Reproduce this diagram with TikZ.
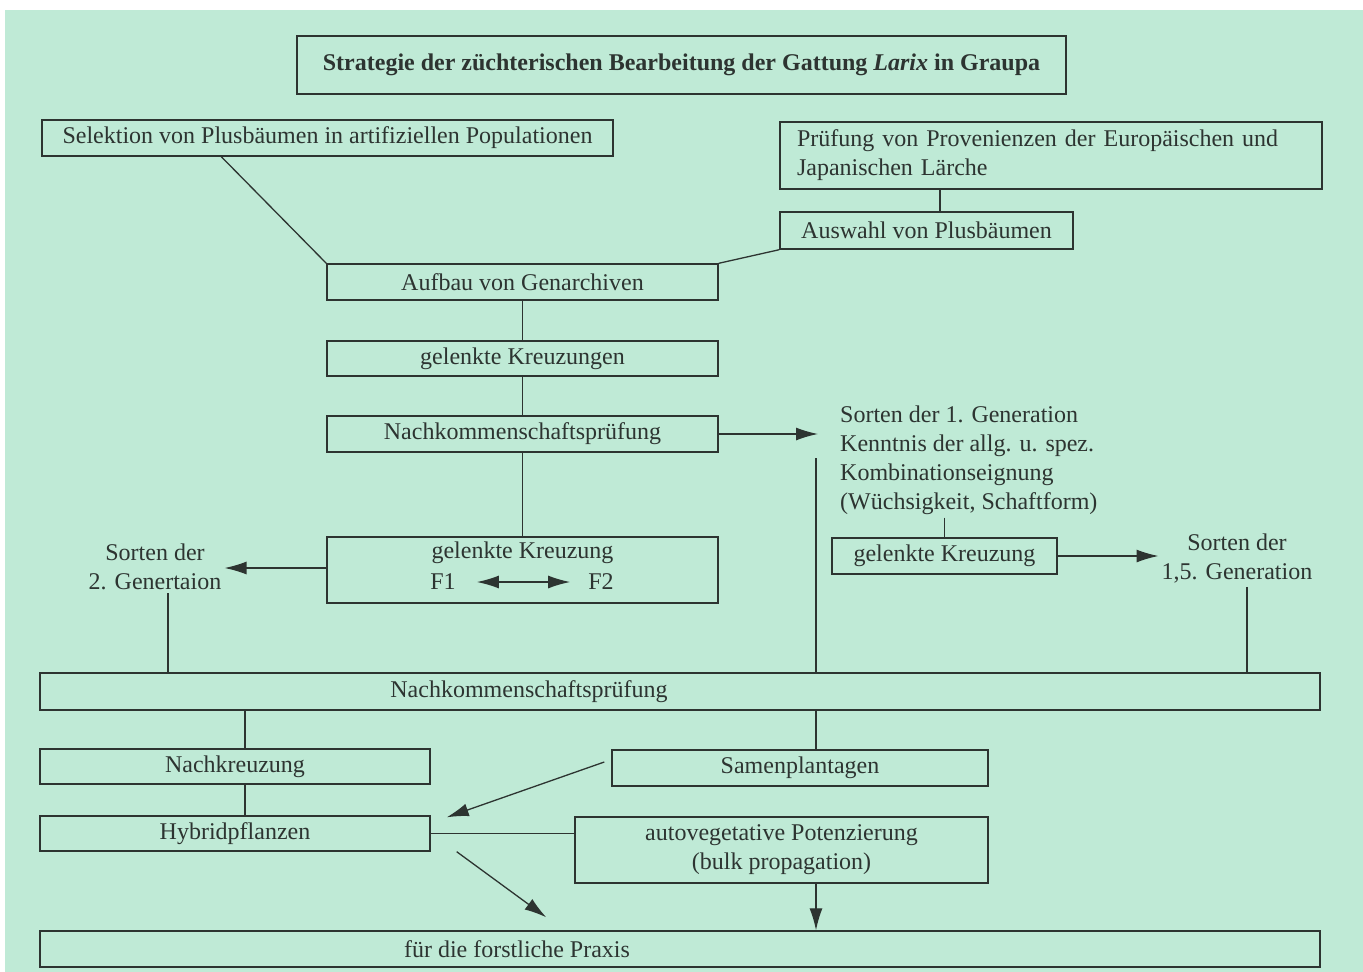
\documentclass[tikz,border=0pt]{standalone}
\usepackage{fontspec}
\setmainfont{Liberation Serif}
\usetikzlibrary{positioning, arrows.meta, calc}
\definecolor{mintbg}{RGB}{191,234,214}
\definecolor{inkgray}{RGB}{45,52,49}

\begin{document}
\begin{tikzpicture}[x=1pt, y=-1pt,
  box/.style={rectangle, draw=inkgray, line width=1.4pt, inner sep=0pt,
    font=\fontsize{24}{29}\selectfont, text=inkgray, align=center,
    minimum width=391pt, minimum height=36pt},
  plain/.style={inner sep=3pt, font=\fontsize{24}{29}\selectfont,
    text=inkgray, align=center},
  link/.style={draw=inkgray, line width=1.3pt},
  arrow/.style={link, -{Latex[length=22pt,width=13pt]}},
  twoway/.style={link, {Latex[length=22pt,width=13pt]}-{Latex[length=22pt,width=13pt]}}
]
  % background
  \useasboundingbox (0,0) rectangle (1363,972);
  \fill[mintbg] (5,10) rectangle (1363,972);

  \node[box, line width=2pt, minimum width=769pt, minimum height=58pt] (title) at (681.5,65)
    {\textbf{Strategie der züchterischen Bearbeitung der Gattung \textit{Larix} in Graupa}};

  % top row
  \node[box, minimum width=571pt] (selek) at (327.5,138)
    {Selektion von Plusbäumen in artifiziellen Populationen};
  \node[box, minimum width=542pt, minimum height=67pt, text width=508pt, align=left] (pruef) at (1051,155.5)
    {Prüfung von Provenienzen der Europäischen und\\Japanischen Lärche};
  \node[box, minimum width=293pt, minimum height=37pt] (auswahl) at (926.5,230.5)
    {Auswahl von Plusbäumen};

  % central column
  \node[box] (aufbau) at (522.5,282) {Aufbau von Genarchiven};
  \node[box, below=39.6pt of aufbau, minimum height=35pt] (kreuzungen) {gelenkte Kreuzungen};
  \node[box, below=38.6pt of kreuzungen] (nachk1) {Nachkommenschaftsprüfung};
  \node[box, below=83.6pt of nachk1, minimum height=66pt] (kreuz2) {};
  \node[plain] (kreuztxt) at (522.5,553) {gelenkte Kreuzung};
  \node[plain] (f1) at (443,582) {F1};
  \node[plain] (f2) at (601,582) {F2};
  \coordinate (k2w) at ([yshift=2pt]kreuz2.west);

  % side results
  \node[plain, align=left, anchor=west] (sorten1) at (837,460)
    {Sorten der 1. Generation\\Kenntnis der allg. u. spez.\\Kombinationseignung\\(Wüchsigkeit, Schaftform)};
  \node[box, minimum width=225pt] (kreuzR) at (944.5,556) {gelenkte Kreuzung};
  \node[plain] (sorten15) at (1237,559) {Sorten der\\1,5. Generation};
  \node[plain] (sorten2) at (155,567) {Sorten der\\2. Genertaion};
  \coordinate (a1) at (818,434);
  \coordinate (v1) at (816,458);

  % lower part
  \node[box, minimum width=1280pt, minimum height=37pt,
    label={[plain, xshift=-151pt]center:Nachkommenschaftsprüfung}] (nachk2) at (680,691.5) {};
  \node[box, minimum width=390pt, minimum height=35pt] (nachkreuz) at (235,766.5) {Nachkreuzung};
  \node[box, below=30.6pt of nachkreuz, minimum width=390pt, minimum height=35pt] (hybrid) {Hybridpflanzen};
  \node[box, minimum width=376pt] (samen) at (800,768) {Samenplantagen};
  \node[box, minimum width=413pt, minimum height=66pt] (autoveg) at (781.5,850)
    {autovegetative Potenzierung\\(bulk propagation)};
  \node[box, minimum width=1280pt, minimum height=36pt,
    label={[plain, xshift=-163pt]center:für die forstliche Praxis}] (praxis) at (680,949) {};

  \draw[link] ([xshift=-111pt]pruef.south) -- ([xshift=-111pt]pruef.south |- auswahl.north);
  \draw[link] ([xshift=180pt]selek.south west) -- (aufbau.north west);
  \draw[link] (auswahl.south west) -- (aufbau.north east);
  \draw[link] (aufbau) -- (kreuzungen);
  \draw[link] (kreuzungen) -- (nachk1);
  \draw[link] (nachk1) -- (kreuz2);
  \draw[arrow] (nachk1.east) -- (nachk1.east -| a1);
  \draw[twoway, shorten <=18pt, shorten >=15pt] (f1) -- (f2);
  \draw[link] (kreuzR.north |- sorten1.south) -- (kreuzR.north);
  \draw[arrow] (kreuzR.east) -- (sorten15.west |- kreuzR.east);
  \draw[arrow] (k2w) -- (sorten2.east |- k2w);
  \draw[link] (v1) -- (v1 |- nachk2.north);
  \draw[link] ([xshift=10pt]sorten15.south) -- ([xshift=10pt]sorten15.south |- nachk2.north);
  \draw[link] ([xshift=13pt]sorten2.south) -- ([xshift=13pt]sorten2.south |- nachk2.north);

  \draw[link] ([xshift=10pt]nachkreuz.north |- nachk2.south) -- ([xshift=10pt]nachkreuz.north);
  \draw[link] ([xshift=10pt]nachkreuz.south) -- ([xshift=10pt]hybrid.north);
  \draw[link] ([xshift=16pt]samen.north |- nachk2.south) -- ([xshift=16pt]samen.north);
  \draw[arrow] ([shift={(-7pt,6pt)}]samen.west) -- ([shift={(16pt,-2pt)}]hybrid.north east);
  \draw[link] (hybrid.east) -- (hybrid.east -| autoveg.west);
  \draw[arrow] ([xshift=26pt]hybrid.south east) -- ([shift={(507pt,13pt)}]praxis.north west);
  \draw[arrow] ([xshift=34.5pt]autoveg.south) -- ([xshift=34.5pt]autoveg.south |- praxis.north);
\end{tikzpicture}
\end{document}
